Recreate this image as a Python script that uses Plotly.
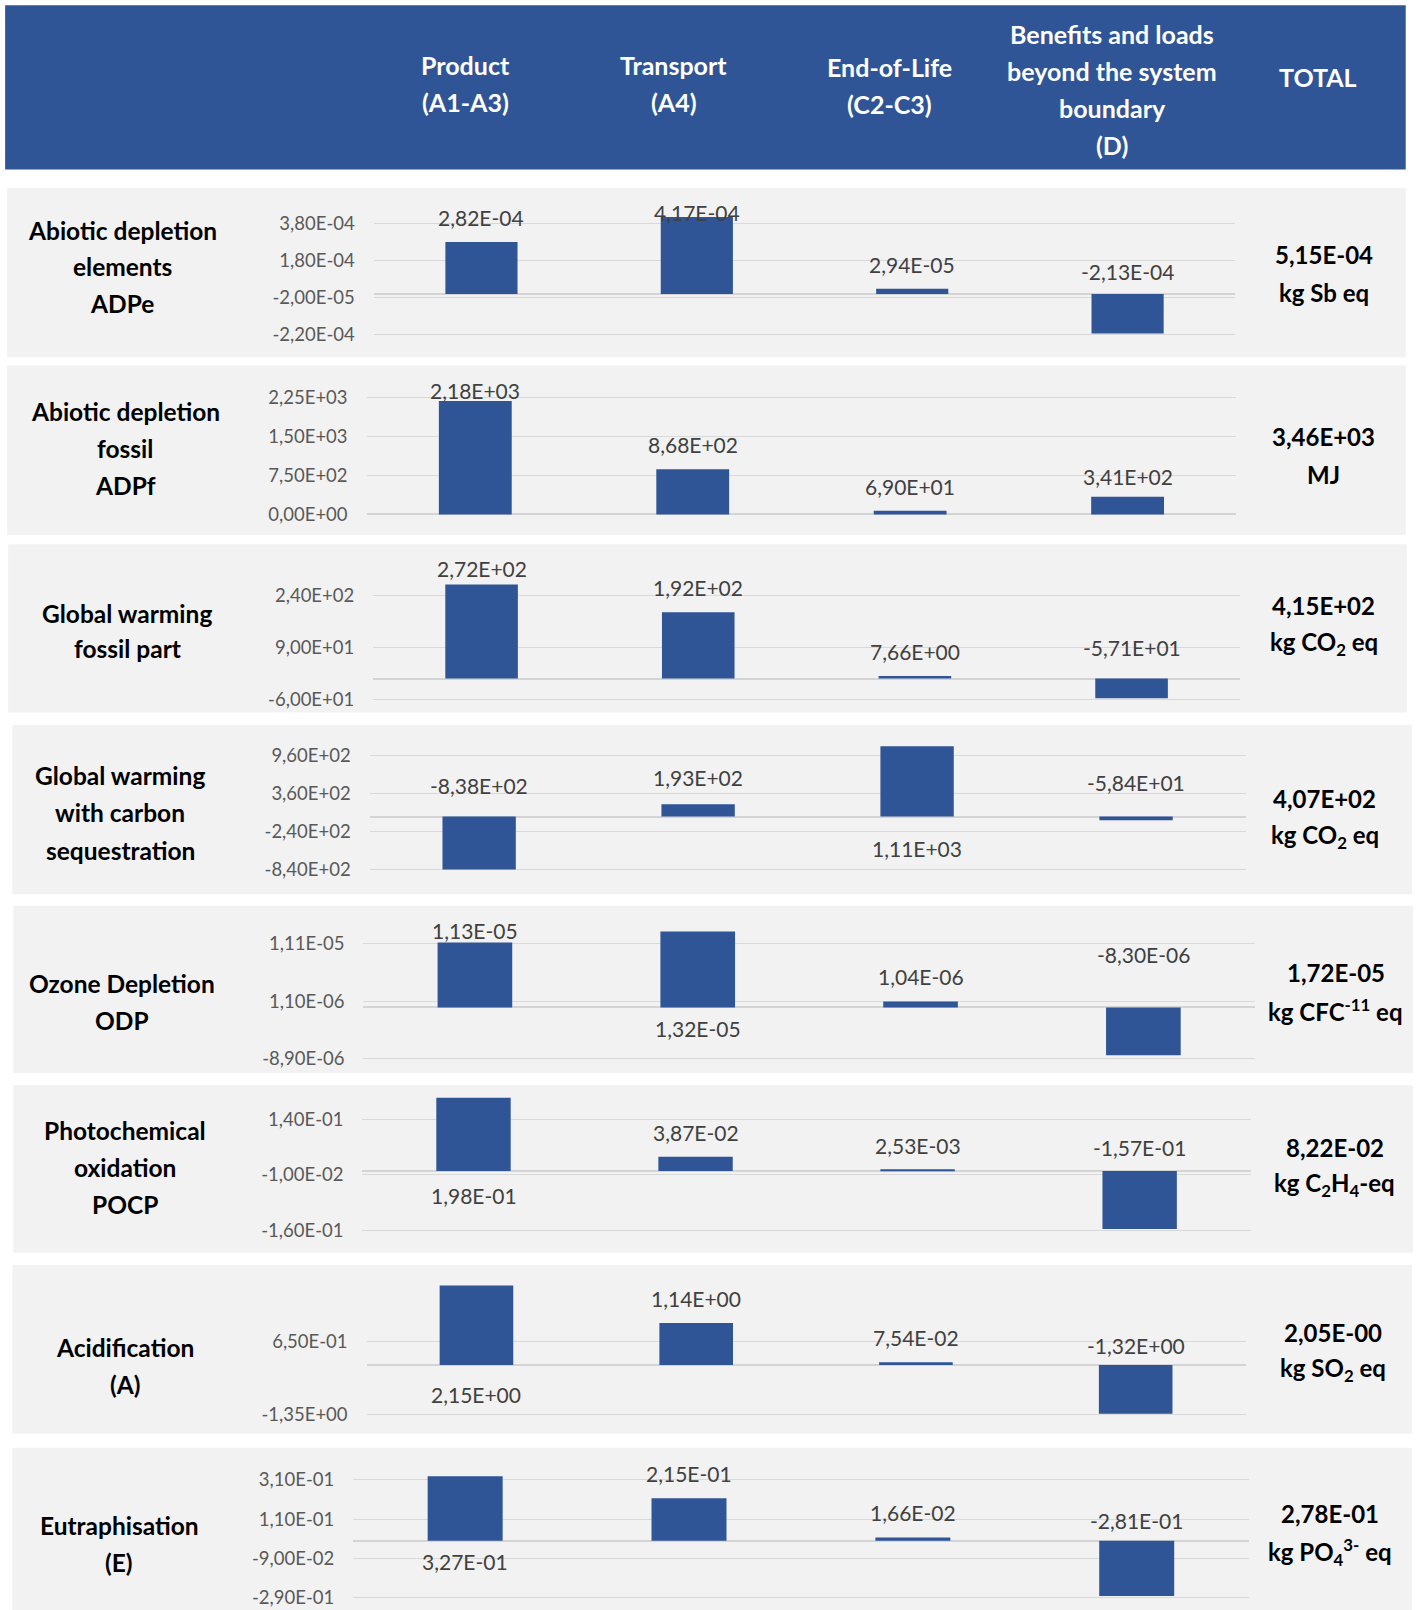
import plotly.graph_objects as go

W, H = 1416, 1610
K = W / 1379.0  # layout measurements were taken on a 1379-wide view

# ---------------- data ----------------
stages = ["Product (A1-A3)", "Transport (A4)", "End-of-Life (C2-C3)", "Benefits and loads (D)"]
header_product = ["Product", "(A1-A3)"]
header_transport = ["Transport", "(A4)"]
header_eol = ["End-of-Life", "(C2-C3)"]
header_benefits = ["Benefits and loads", "beyond the system", "boundary", "(D)"]
header_total = ["TOTAL"]

adpe_values = [2.82e-4, 4.17e-4, 2.94e-5, -2.13e-4]
adpe_ticks = [-2.2e-4, -2.0e-5, 1.8e-4, 3.8e-4]
adpf_values = [2.18e3, 8.68e2, 6.90e1, 3.41e2]
adpf_ticks = [0.0, 750.0, 1500.0, 2250.0]
gwf_values = [2.72e2, 1.92e2, 7.66, -5.71e1]
gwf_ticks = [-60.0, 90.0, 240.0]
gwc_values = [-8.38e2, 1.93e2, 1.11e3, -5.84e1]
gwc_ticks = [-840.0, -240.0, 360.0, 960.0]
odp_values = [1.13e-5, 1.32e-5, 1.04e-6, -8.30e-6]
odp_ticks = [-8.9e-6, 1.1e-6, 1.11e-5]
pocp_values = [1.98e-1, 3.87e-2, 2.53e-3, -1.57e-1]
pocp_ticks = [-0.16, -0.01, 0.14]
ap_values = [2.15, 1.14, 7.54e-2, -1.32]
ap_ticks = [-1.35, 0.65]
ep_values = [3.27e-1, 2.15e-1, 1.66e-2, -2.81e-1]
ep_ticks = [-0.29, -0.09, 0.11, 0.31]

indicator_names = [
    ["Abiotic depletion", "elements", "ADPe"],
    ["Abiotic depletion", "fossil", "ADPf"],
    ["Global warming", "fossil part"],
    ["Global warming", "with carbon", "sequestration"],
    ["Ozone Depletion", "ODP"],
    ["Photochemical", "oxidation", "POCP"],
    ["Acidification", "(A)"],
    ["Eutraphisation", "(E)"],
]
total_values = ["5,15E-04", "3,46E+03", "4,15E+02", "4,07E+02",
                "1,72E-05", "8,22E-02", "2,05E-00", "2,78E-01"]
total_units = ["kg Sb eq", "MJ", "kg CO<sub>2</sub> eq", "kg CO<sub>2</sub> eq",
               "kg CFC<sup>-11</sup> eq", "kg C<sub>2</sub>H<sub>4</sub>-eq",
               "kg SO<sub>2</sub> eq", "kg PO<sub>4</sub><sup>3-</sup> eq"]

series = [adpe_values, adpf_values, gwf_values, gwc_values,
          odp_values, pocp_values, ap_values, ep_values]
ticks = [adpe_ticks, adpf_ticks, gwf_ticks, gwc_ticks,
         odp_ticks, pocp_ticks, ap_ticks, ep_ticks]

# ---------------- layout / style (measured in 1379-wide px) ----------------
panel_style = [
    dict(bg=(7, 1369, 183, 348), px=(364, 1203), tp=(218, 326), lx=119, ly=[224, 260, 296], tx=1289, ty=[248, 285],
         mode=["end", "end", "end", "base"], gap=[24, 24, 24, 22]),
    dict(bg=(7, 1369, 356, 521), px=(357, 1204), tp=(387, 501), lx=122, ly=[401, 437, 473], tx=1289, ty=[425, 462],
         mode=["end", "end", "end", "end"], gap=[24, 24, 24, 20]),
    dict(bg=(8, 1370, 530, 694), px=(363.5, 1207.5), tp=(580, 681), lx=124, ly=[597, 632], tx=1289, ty=[590, 627],
         mode=["end", "end", "end", "base"], gap=[24, 24, 24, 30]),
    dict(bg=(12, 1375, 706, 871), px=(360, 1213), tp=(736, 847), lx=117, ly=[755, 791, 828], tx=1290, ty=[778, 815],
         mode=["base", "end", "base", "base"], gap=[30, 26, 31, 33]),
    dict(bg=(13, 1376, 882, 1045), px=(354, 1222), tp=(919, 1031), lx=119, ly=[958, 994], tx=1301, ty=[947, 984],
         mode=["end", "base", "end", "base"], gap=[24, 20, 24, 52]),
    dict(bg=(13, 1376, 1057, 1220), px=(353, 1218), tp=(1090, 1198), lx=122, ly=[1101, 1137, 1173], tx=1300, ty=[1118, 1154],
         mode=["base", "end", "end", "base"], gap=[24, 24, 24, 23]),
    dict(bg=(12, 1375, 1232, 1396), px=(357, 1213), tp=(1306, 1378), lx=122, ly=[1312, 1348], tx=1298, ty=[1298, 1334],
         mode=["base", "end", "end", "base"], gap=[29, 24, 24, 19]),
    dict(bg=(12, 1375, 1410, 1568), px=(344, 1216), tp=(1441, 1556), lx=116, ly=[1486, 1522], tx=1295, ty=[1474, 1511],
         mode=["base", "end", "end", "base"], gap=[20, 24, 24, 20]),
]

BLUE = "#2F5597"
FONT = "Lato, Carlito, 'Liberation Sans', sans-serif"


def fmt(v):
    return f"{v:.2E}".replace(".", ",")


def px2paper_y(py):
    return 1 - py / H


fig = go.Figure()
shapes = []
annotations = []
layout_axes = {}

# header band
shapes.append(dict(type="rect", xref="paper", yref="paper", layer="below",
                   x0=5 * K / W, x1=1369 * K / W, y0=px2paper_y(165 * K), y1=px2paper_y(5 * K),
                   fillcolor=BLUE, line=dict(width=0)))
header_cols = [(453, [63, 99], header_product), (656, [63, 99], header_transport),
               (866, [65, 101], header_eol), (1083, [33, 69, 105, 141], header_benefits),
               (1284, [75], header_total)]
for hx, hys, lines in header_cols:
    for hy, t in zip(hys, lines):
        annotations.append(dict(xref="paper", yref="paper", x=hx * K / W, y=px2paper_y(hy * K),
                                text=f"<b>{t}</b>", showarrow=False, xanchor="center", yanchor="middle",
                                font=dict(family=FONT, size=25, color="white")))

for i, (vals, tks, st) in enumerate(zip(series, ticks, panel_style)):
    n = i + 1
    bl, br, bt, bb = [v * K for v in st["bg"]]
    if i == len(series) - 1:
        bb = H
    shapes.append(dict(type="rect", xref="paper", yref="paper", layer="below",
                       x0=bl / W, x1=br / W, y0=px2paper_y(bb), y1=px2paper_y(bt),
                       fillcolor="#F2F2F2", line=dict(width=0)))

    t_hi, t_lo = max(tks), min(tks)
    p_hi, p_lo = st["tp"][0] * K, st["tp"][1] * K
    u = (t_hi - t_lo) / (p_lo - p_hi)  # value per px
    r_top = t_hi + (p_hi - bt) * u
    r_bot = t_lo - (bb - p_lo) * u

    def v2px(v, p_hi=p_hi, t_hi=t_hi, u=u):
        return p_hi + (t_hi - v) / u

    xl, xr = st["px"][0] * K, st["px"][1] * K
    layout_axes[f"xaxis{n}"] = dict(domain=[xl / W, xr / W], range=[-0.5, 3.5], anchor=f"y{n}",
                                    showticklabels=False, showgrid=False, zeroline=False,
                                    showline=False, fixedrange=True)
    layout_axes[f"yaxis{n}"] = dict(domain=[px2paper_y(bb), px2paper_y(bt)], range=[r_bot, r_top],
                                    anchor=f"x{n}", tickmode="array", tickvals=tks,
                                    ticktext=[fmt(t) for t in tks], showgrid=True,
                                    gridcolor="#D9D9D9", gridwidth=1.3, zeroline=True,
                                    zerolinecolor="#D4D4D4", zerolinewidth=1.6, showline=False,
                                    ticks="", ticklabelstandoff=int(18 * K),
                                    tickfont=dict(family=FONT, size=18.5, color="#595959"),
                                    fixedrange=True)

    fig.add_trace(go.Bar(x=[0, 1, 2, 3], y=vals, xaxis=f"x{n}", yaxis=f"y{n}",
                         marker=dict(color=BLUE, line=dict(width=0)), showlegend=False,
                         hovertext=stages, name=" / ".join(indicator_names[i])))

    zero_px = v2px(0)
    for j, v in enumerate(vals):
        gap = st["gap"][j] * K
        if st["mode"][j] == "end":
            ly = min(v2px(v), zero_px) - gap
            ly = max(ly, bt + 24 * K)
        else:
            ly = zero_px - gap if v < 0 else zero_px + gap
        annotations.append(dict(xref=f"x{n}", yref="paper", x=j, y=px2paper_y(ly), text=fmt(v),
                                showarrow=False, xanchor="center", yanchor="middle",
                                font=dict(family=FONT, size=21, color="#404040")))

    for yy, t in zip(st["ly"], indicator_names[i]):
        annotations.append(dict(xref="paper", yref="paper", x=st["lx"] * K / W, y=px2paper_y(yy * K),
                                text=f"<b>{t}</b>", showarrow=False, xanchor="center", yanchor="middle",
                                font=dict(family=FONT, size=24.5, color="black")))
    for yy, t in zip(st["ty"], [total_values[i], total_units[i]]):
        annotations.append(dict(xref="paper", yref="paper", x=st["tx"] * K / W, y=px2paper_y(yy * K),
                                text=f"<b>{t}</b>", showarrow=False, xanchor="center", yanchor="middle",
                                font=dict(family=FONT, size=24, color="black")))

fig.update_layout(width=W, height=H, margin=dict(l=0, r=0, t=0, b=0),
                  paper_bgcolor="white", plot_bgcolor="rgba(0,0,0,0)",
                  bargap=0.665, shapes=shapes, annotations=annotations,
                  showlegend=False, **layout_axes)

fig.write_html("out.html", config={"displayModeBar": False},
               post_script="document.body.style.margin='0px';")
